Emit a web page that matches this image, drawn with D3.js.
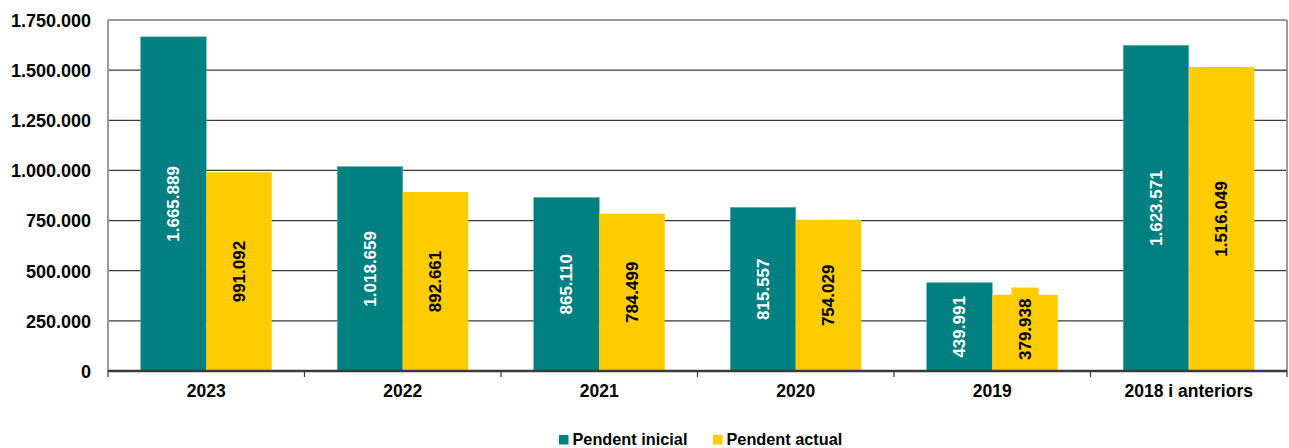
<!DOCTYPE html>
<html><head><meta charset="utf-8">
<script src="https://cdn.jsdelivr.net/npm/d3@7"></script>
<style>
html,body{margin:0;padding:0;background:#fff;}
text{font-family:"Liberation Sans",Arial,sans-serif;font-weight:bold;}
</style></head>
<body>
<svg id="chart" width="1289" height="448"></svg>
<script>
const categories = ["2023","2022","2021","2020","2019","2018 i anteriors"];
const pendentInicial = [1665889, 1018659, 865110, 815557, 439991, 1623571];
const pendentActual = [991092, 892661, 784499, 754029, 379938, 1516049];
const seriesNames = ["Pendent inicial","Pendent actual"];
const yTicks = [0,250000,500000,750000,1000000,1250000,1500000,1750000];

const colors = ["#008080","#FFCC00"];
const labelColors = ["#ffffff","#000000"];
const fmt = v => d3.format(",")(v).replace(/,/g,".");

const svg = d3.select("#chart");
const m = {left:108, right:1287, top:20, bottom:371};

const x0 = d3.scaleBand().domain(categories).range([m.left,m.right]).paddingInner(1/3).paddingOuter(1/6);
const x1 = d3.scaleBand().domain([0,1]).range([0,x0.bandwidth()]);
const y = d3.scaleLinear().domain([0,1750000]).range([m.bottom,m.top]);

// gridlines
svg.append("g").selectAll("line").data(yTicks.filter(t=>t>0 && t<1750000)).join("line")
  .attr("x1",m.left).attr("x2",m.right).attr("y1",d=>y(d)).attr("y2",d=>y(d))
  .attr("stroke","#3a3a3a").attr("stroke-width",1.3);

// plot border
svg.append("line").attr("x1",m.left).attr("x2",m.right).attr("y1",m.top).attr("y2",m.top).attr("stroke","#999").attr("stroke-width",2);
svg.append("line").attr("x1",m.right).attr("x2",m.right).attr("y1",m.top).attr("y2",m.bottom).attr("stroke","#999").attr("stroke-width",2);
svg.append("line").attr("x1",m.left).attr("x2",m.left).attr("y1",m.top).attr("y2",m.bottom).attr("stroke","#999").attr("stroke-width",2);

// y axis labels
const yAxis = d3.axisLeft(y).tickValues(yTicks).tickSize(0).tickPadding(17).tickFormat(fmt);
const gy = svg.append("g").attr("transform",`translate(${m.left},0)`).call(yAxis);
gy.select(".domain").remove();
gy.selectAll("text").attr("font-size","18px").attr("fill","#000").attr("dy","0.35em");

// bars
const series = [pendentInicial, pendentActual];
const data = [];
categories.forEach((c,i)=>series.forEach((s,j)=>data.push({c, j, v:s[i]})));

svg.append("g").selectAll("rect").data(data).join("rect")
  .attr("x",d=>x0(d.c)+x1(d.j)).attr("width",x1.bandwidth())
  .attr("y",d=>y(d.v)).attr("height",d=>y(0)-y(d.v))
  .attr("fill",d=>colors[d.j])
  .attr("stroke",d=>d.j===0?"#5aa8a8":"none").attr("stroke-width",0.6);

// value labels
const lg = svg.append("g");
data.forEach(d=>{
  const cx = x0(d.c)+x1(d.j)+x1.bandwidth()/2;
  const g = lg.append("g");
  const t = g.append("text").attr("font-size","17px").attr("fill",labelColors[d.j])
    .attr("text-anchor","middle").attr("dy","0.35em").text(fmt(d.v));
  const len = t.node().getComputedTextLength();
  const boxH = len + 22;
  let cy = (y(d.v)+y(0))/2;
  if (cy + boxH/2 > y(0)) cy = y(0) - boxH/2;
  g.insert("rect","text").attr("x",-boxH/2).attr("y",-13.5).attr("width",boxH).attr("height",27)
    .attr("fill",colors[d.j]);
  g.attr("transform",`translate(${cx},${cy}) rotate(-90)`);
});

// x axis
const xAxis = d3.axisBottom(x0).tickSize(0).tickPadding(14);
const gx = svg.append("g").attr("transform",`translate(0,${m.bottom})`).call(xAxis);
gx.select(".domain").attr("stroke","#3a3a3a").attr("stroke-width",2.5).attr("d",`M${m.left},0H${m.right}`);
gx.selectAll("text").attr("font-size","17.5px").attr("fill","#000");
// category boundary ticks
const bounds = categories.map(c=>x0(c)-x0.step()*x0.paddingInner()/2);
bounds.push(m.right);
svg.append("g").selectAll("line").data(bounds).join("line")
  .attr("x1",d=>d).attr("x2",d=>d).attr("y1",m.bottom).attr("y2",m.bottom+6)
  .attr("stroke","#3a3a3a").attr("stroke-width",1.2);

// legend
const legend = svg.append("g");
const legX = [559, 713];
seriesNames.forEach((n,i)=>{
  legend.append("rect").attr("x",legX[i]).attr("y",435).attr("width",9.5).attr("height",9.5).attr("fill",colors[i]);
  legend.append("text").attr("x",legX[i]+13.5).attr("y",444.5).attr("font-size","16.3px").attr("fill","#000").text(n);
});
</script>
</body></html>
